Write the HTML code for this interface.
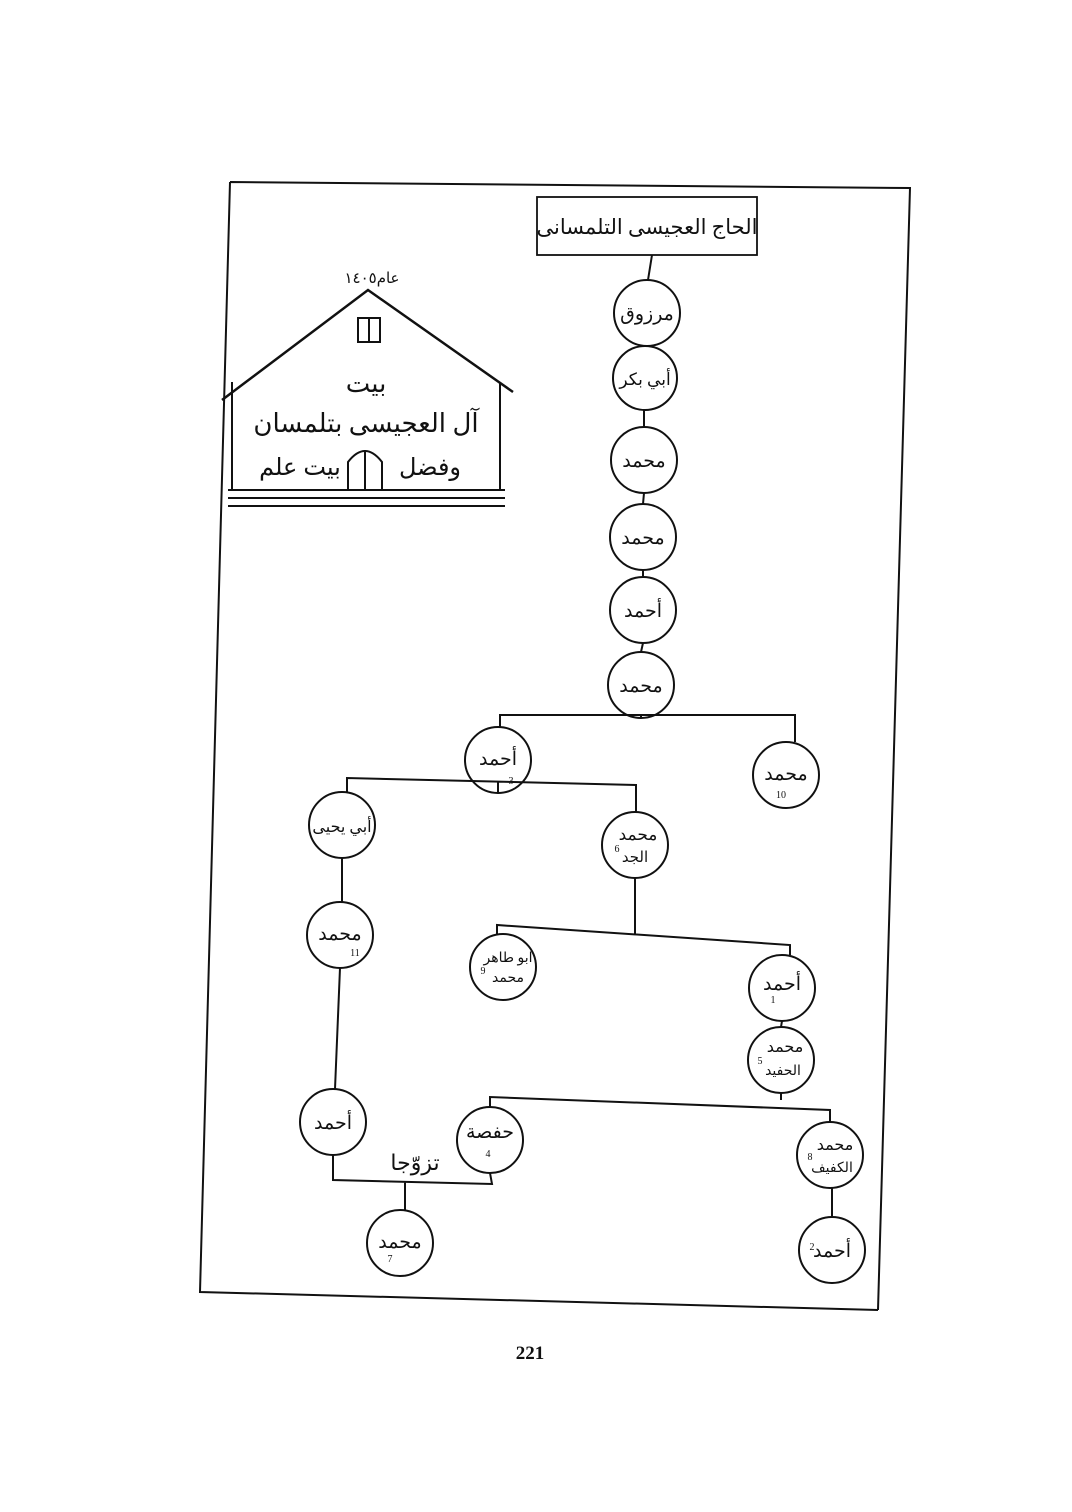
<!DOCTYPE html>
<html><head><meta charset="utf-8"><style>
html,body{margin:0;padding:0;background:#fff;}
svg{display:block;}
text{font-family:"Liberation Serif","DejaVu Sans",serif;fill:#111;}
</style></head><body>
<svg width="1072" height="1512" viewBox="0 0 1072 1512" xmlns="http://www.w3.org/2000/svg">
<g stroke="#111" fill="none" stroke-width="2">
<path d="M230 182 L910 188 L878 1310 M230 182 L200 1292 L878 1310" />
<rect x="537" y="197" width="220" height="58" stroke-width="1.8"/>
<path d="M222 400 L368 290 L513 392" stroke-width="2.5"/>
<path d="M232 382 L232 490 M500 382 L500 490"/>
<path d="M228 490 L505 490 M228 498 L505 498 M228 506 L505 506" stroke-width="2"/>
<rect x="358" y="318" width="22" height="24"/>
<line x1="369" y1="318" x2="369" y2="342"/>
<path d="M348 490 L348 462 Q365 440 382 462 L382 490"/>
<line x1="365" y1="450" x2="365" y2="490"/>
<path d="M652 255 L648 280 M644 410 L644 427 M644 493 L643 504 M643 570 L643 577 M643 643 L641 652 M641 718 L641 715"/>
<path d="M500 728 L500 715 L795 715 L795 742"/>
<path d="M498 793 L498 781 M347 792 L347 778 L636 785 L636 812"/>
<path d="M342 858 L342 902 M340 968 L335 1089 M333 1155 L333 1180 L492 1184 L490 1173 M405 1182 L405 1210"/>
<path d="M635 878 L635 935 M497 934 L497 925 L790 945 L790 955"/>
<path d="M782 1021 L781 1027 M781 1093 L781 1100 M490 1107 L490 1097 L830 1110 L830 1122 M832 1188 L832 1217"/>
<circle cx="647" cy="313" r="33"/>
<circle cx="645" cy="378" r="32"/>
<circle cx="644" cy="460" r="33"/>
<circle cx="643" cy="537" r="33"/>
<circle cx="643" cy="610" r="33"/>
<circle cx="641" cy="685" r="33"/>
<circle cx="498" cy="760" r="33"/>
<circle cx="786" cy="775" r="33"/>
<circle cx="342" cy="825" r="33"/>
<circle cx="635" cy="845" r="33"/>
<circle cx="340" cy="935" r="33"/>
<circle cx="503" cy="967" r="33"/>
<circle cx="782" cy="988" r="33"/>
<circle cx="781" cy="1060" r="33"/>
<circle cx="333" cy="1122" r="33"/>
<circle cx="490" cy="1140" r="33"/>
<circle cx="830" cy="1155" r="33"/>
<circle cx="400" cy="1243" r="33"/>
<circle cx="832" cy="1250" r="33"/>
</g>
<g text-anchor="middle" font-size="19">
<text x="647" y="234" font-size="21">الحاج العجيسى التلمسانى</text>
<text x="372" y="283" font-size="15">عام١٤٠٥</text>
<text x="366" y="392" font-size="26">بيت</text>
<text x="366" y="432" font-size="26">آل العجيسى بتلمسان</text>
<text x="300" y="475" font-size="24">بيت علم</text>
<text x="430" y="475" font-size="24">وفضل</text>
<text x="647" y="320">مرزوق</text>
<text x="645" y="385" font-size="17">أبي بكر</text>
<text x="644" y="467">محمد</text>
<text x="643" y="544">محمد</text>
<text x="643" y="617">أحمد</text>
<text x="641" y="692">محمد</text>
<text x="498" y="765">أحمد</text><text x="511" y="784" font-size="10">3</text>
<text x="786" y="780">محمد</text><text x="781" y="798" font-size="10">10</text>
<text x="342" y="832" font-size="16">أبي يحيى</text>
<text x="638" y="840" font-size="17">محمد</text><text x="635" y="862" font-size="15">الجد</text><text x="617" y="852" font-size="10">6</text>
<text x="508" y="962" font-size="14">ابو طاهر</text><text x="508" y="982" font-size="14">محمد</text><text x="483" y="974" font-size="10">9</text>
<text x="340" y="940">محمد</text><text x="355" y="956" font-size="10">11</text>
<text x="782" y="990">أحمد</text><text x="773" y="1003" font-size="10">1</text>
<text x="785" y="1052" font-size="16">محمد</text><text x="783" y="1075" font-size="14">الحفيد</text><text x="760" y="1064" font-size="10">5</text>
<text x="333" y="1129">أحمد</text>
<text x="490" y="1138">حفصة</text><text x="488" y="1157" font-size="10">4</text>
<text x="835" y="1150" font-size="16">محمد</text><text x="832" y="1172" font-size="14">الكفيف</text><text x="810" y="1160" font-size="10">8</text>
<text x="415" y="1170" font-size="22">تزوّجا</text>
<text x="400" y="1248">محمد</text><text x="390" y="1262" font-size="10">7</text>
<text x="832" y="1257">أحمد</text><text x="812" y="1250" font-size="10">2</text>
<text x="530" y="1359" font-size="19" font-weight="bold">221</text>
</g>
</svg>
</body></html>
